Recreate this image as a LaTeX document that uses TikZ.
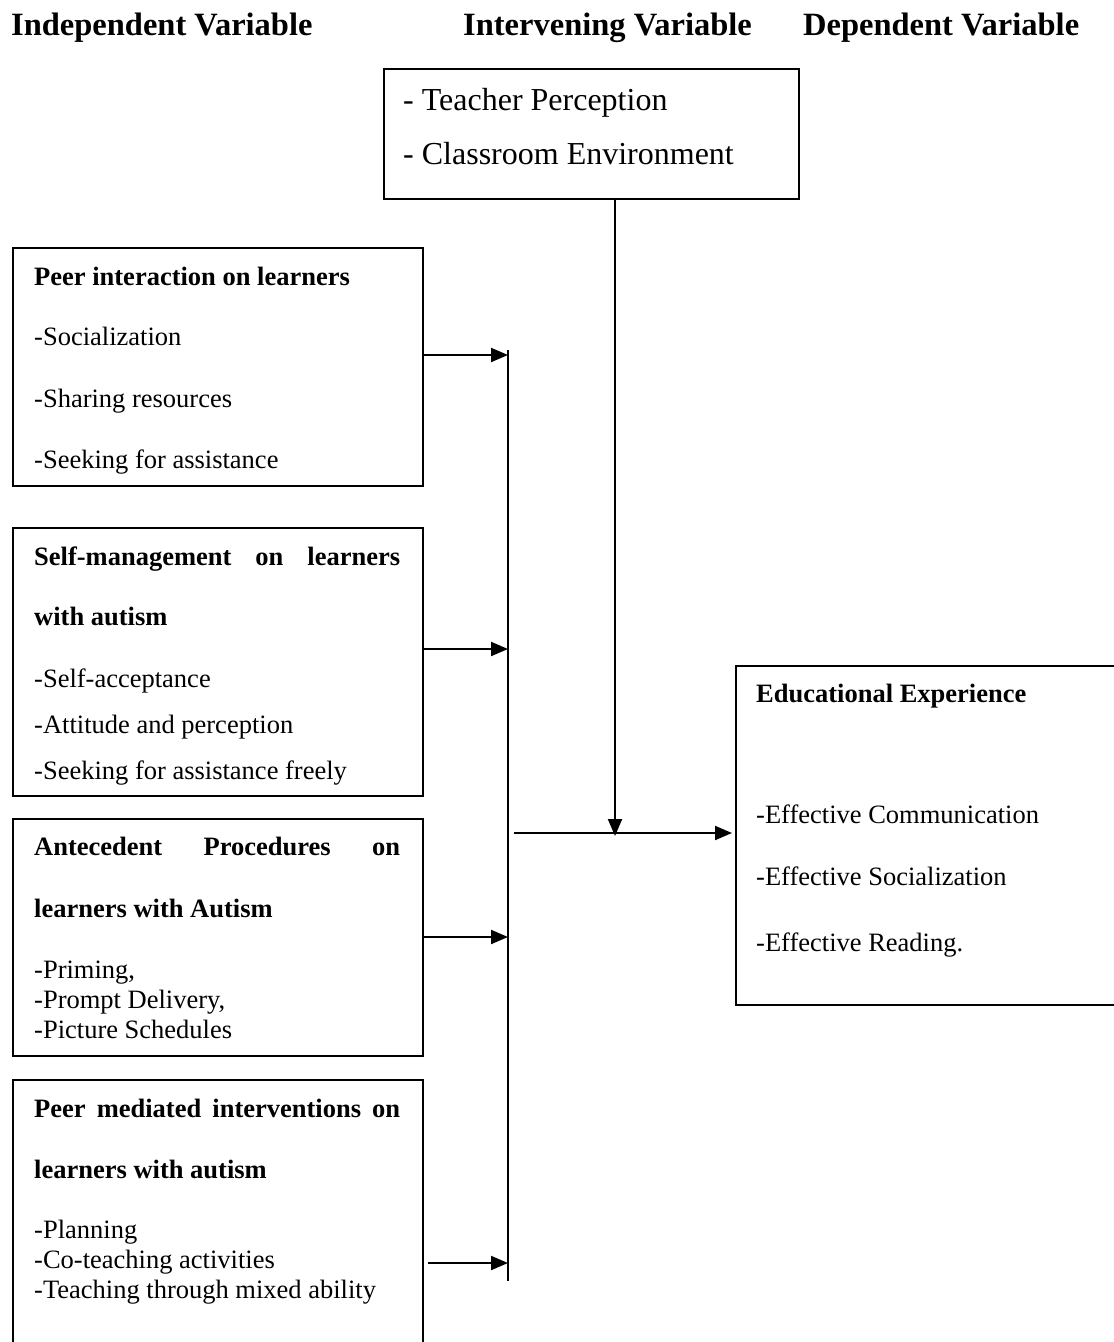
\documentclass[tikz,border=0pt]{standalone}
\usepackage{fontspec}
\setmainfont{Liberation Serif}
\usetikzlibrary{arrows.meta}
\begin{document}
\begin{tikzpicture}[x=1pt,y=-1pt,
  box/.style={draw, line width=2.2pt, rectangle, inner sep=0pt, anchor=north west},
  txt/.style={anchor=base west, inner sep=0pt, font=\fontsize{26.5}{30}\selectfont},
  btxt/.style={anchor=base west, inner sep=0pt, font=\fontsize{26.5}{30}\selectfont\bfseries},
  big/.style={anchor=base west, inner sep=0pt, font=\fontsize{32}{36}\selectfont},
  head/.style={anchor=base west, inner sep=0pt, font=\fontsize{32.5}{36}\selectfont\bfseries},
  conn/.style={line width=2pt},
  arr/.style={line width=2pt, -{Triangle[length=17pt,width=14pt]}}
]
\useasboundingbox (0,0) rectangle (1114,1342);
\clip (0,0) rectangle (1114,1342);

% headers
\node[head] (h1) at (11,35) {Independent Variable};
\node[head] (h2) at (463,35) {Intervening Variable};
\node[head] (h3) at (803,35) {Dependent Variable};

% intervening box
\node[box, minimum width=415pt, minimum height=130pt] (top) at (383,68) {};
\node[big] (t1) at (403,110) {- Teacher Perception};
\node[big] (t2) at (403,164) {- Classroom Environment};

% box 1
\node[box, minimum width=410pt, minimum height=238pt] (b1) at (12,247) {};
\node[btxt] (b1a) at (34,285) {Peer interaction on learners};
\node[txt] (b1b) at (34,345) {-Socialization};
\node[txt] (b1c) at (34,407) {-Sharing resources};
\node[txt] (b1d) at (34,468) {-Seeking for assistance};

% box 2
\node[box, minimum width=410pt, minimum height=268pt] (b2) at (12,527) {};
\node[btxt] (b2a) at (34,565) {\hbox to 366pt{Self-management\hfill on\hfill learners}};
\node[btxt] (b2b) at (34,625) {with autism};
\node[txt] (b2c) at (34,687) {-Self-acceptance};
\node[txt] (b2d) at (34,733) {-Attitude and perception};
\node[txt] (b2e) at (34,779) {-Seeking for assistance freely};

% box 3
\node[box, minimum width=410pt, minimum height=237pt] (b3) at (12,818) {};
\node[btxt] (b3a) at (34,855) {\hbox to 366pt{Antecedent\hfill Procedures\hfill on}};
\node[btxt] (b3b) at (34,917) {learners with Autism};
\node[txt] (b3c) at (34,978) {-Priming,};
\node[txt] (b3d) at (34,1008) {-Prompt Delivery,};
\node[txt] (b3e) at (34,1038) {-Picture Schedules};

% box 4
\node[box, minimum width=410pt, minimum height=275pt] (b4) at (12,1079) {};
\node[btxt] (b4a) at (34,1117) {\hbox to 366pt{Peer\hfill mediated\hfill interventions\hfill on}};
\node[btxt] (b4b) at (34,1178) {learners with autism};
\node[txt] (b4c) at (34,1238) {-Planning};
\node[txt] (b4d) at (34,1268) {-Co-teaching activities};
\node[txt] (b4e) at (34,1298) {-Teaching through mixed ability};

% dependent box
\node[box, minimum width=400pt, minimum height=339pt] (out) at (735,665) {};
\node[btxt] (o1) at (756,702) {Educational Experience};
\node[txt] (o2) at (756,823) {-Effective Communication};
\node[txt] (o3) at (756,885) {-Effective Socialization};
\node[txt] (o4) at (756,951) {-Effective Reading.};

% bus line
\coordinate (bustop) at (508,350);
\coordinate (busbot) at (508,1281);
\draw[conn] (bustop) -- (busbot);

\coordinate (a1) at (508,355);
\coordinate (a2) at (508,649);
\coordinate (a3) at (508,937);
\coordinate (a4) at (508,1263);
\draw[arr] (b1.east |- a1) -- (a1);
\draw[arr] (b2.east |- a2) -- (a2);
\draw[arr] (b3.east |- a3) -- (a3);
\draw[arr] ([xshift=4pt]b4.east |- a4) -- (a4);

% intervening connector
\coordinate (j) at (615,836);
\draw[arr] (top.south -| j) -- (j);

% output arrow
\coordinate (h0) at (514,833);
\draw[arr] (h0) -- ([xshift=-3pt]out.west |- h0);
\end{tikzpicture}
\end{document}
